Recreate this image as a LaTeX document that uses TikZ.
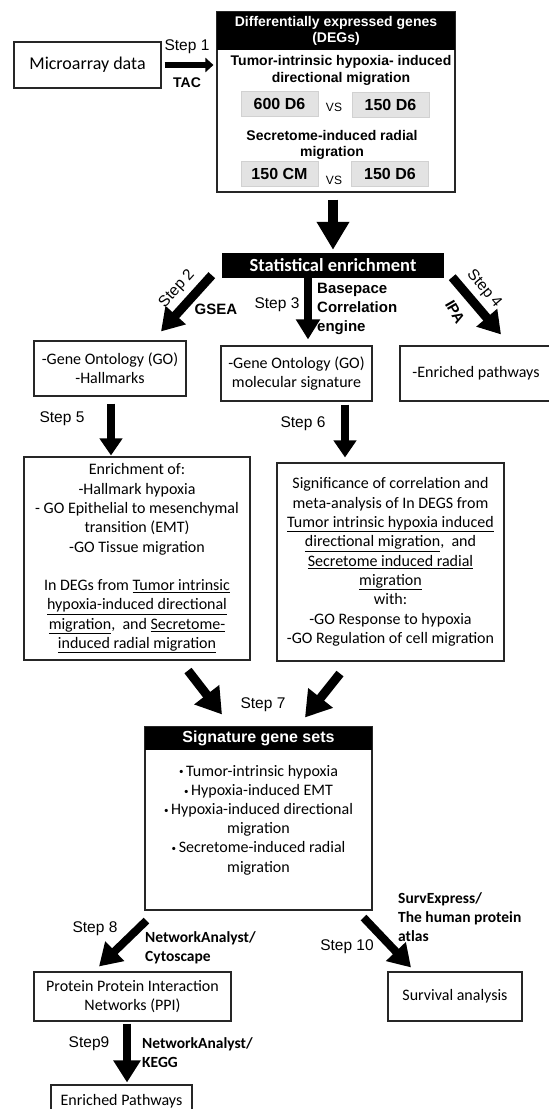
\documentclass[tikz,border=0pt]{standalone}
\usepackage{fontspec}
\setmainfont{Carlito}
\newfontfamily\arial{Liberation Sans}
\usetikzlibrary{arrows.meta}
\newcommand{\sbul}{\raisebox{1.3pt}{\fontsize{9}{9}\selectfont\textbullet}\,}
\begin{document}
\begin{tikzpicture}[x=1pt,y=-1pt,
  box/.style={draw=black!85, line width=1.1pt, inner sep=0pt, align=center, font=\fontsize{16}{19.3}\selectfont},
  head/.style={fill=black, text=white, inner sep=0pt, align=center, font=\arial\bfseries\fontsize{14}{16}\selectfont},
  grey/.style={fill=black!11, draw=black!18, line width=0.6pt, minimum width=77pt, minimum height=25pt, inner sep=0pt, font=\arial\bfseries\fontsize{16}{18}\selectfont},
  fat/.style={line width=9pt, -{Triangle[length=22pt,width=26pt]}},
  steplbl/.style={font=\arial\fontsize{15.5}{17}\selectfont, inner sep=0pt},
  tool/.style={font=\arial\bfseries\fontsize{15}{19}\selectfont, inner sep=0pt, align=left},
  toolc/.style={font=\bfseries\fontsize{15.5}{19}\selectfont, inner sep=0pt, align=left}]
\useasboundingbox (0,0) rectangle (549,1109);
\node[box, minimum width=147pt, minimum height=46pt, font=\fontsize{18}{20}\selectfont] (micro) at (87.5,65) {Microarray data};
\node[box, minimum width=238pt, minimum height=180pt] (degs) at (336,102) {};
\node[head, anchor=north, minimum width=238pt, minimum height=38pt] (degshead) at (degs.north) {Differentially expressed genes\\(DEGs)};
\node[font=\arial\bfseries\fontsize{14}{17}\selectfont, align=center, inner sep=0pt] (dirmig) at (341,70.5) {Tumor-intrinsic hypoxia- induced\\directional migration};
\node[font=\arial\bfseries\fontsize{14}{16}\selectfont, align=center, inner sep=0pt] (radmig) at (332,145) {Secretome-induced radial\\migration};
\node[grey] (g600) at (279.5,103.5) {600 D6};
\node[grey] (g150a) at (390.5,104.5) {150 D6};
\node[grey] (g150cm) at (279.5,174) {150 CM};
\node[grey] (g150b) at (390,174) {150 D6};
\node[font=\arial\fontsize{12}{14}\selectfont, inner sep=0pt] (vsa) at (334,107) {VS};
\node[font=\arial\fontsize{12}{14}\selectfont, inner sep=0pt] (vsb) at (334,180) {VS};
\node[head, minimum width=222pt, minimum height=25pt, font=\bfseries\fontsize{18.5}{20}\selectfont] (stat) at (333,265.5) {Statistical enrichment};
\node[box, minimum width=152pt, minimum height=55pt] (goleft) at (110,368.5) {-Gene Ontology (GO)\\-Hallmarks};
\node[box, minimum width=151pt, minimum height=55pt] (gomid) at (296.5,373.5) {-Gene Ontology (GO)\\molecular signature};
\node[box, minimum width=152pt, minimum height=55pt] (enrpath) at (476,373.5) {-Enriched pathways};
\node[box, minimum width=226pt, minimum height=203pt] (enrich) at (137,558.5) {Enrichment of:\\-Hallmark hypoxia\\- GO Epithelial to mesenchymal\\transition (EMT)\\-GO Tissue migration\\[19.3pt]In DEGs from \underline{Tumor intrinsic}\\\underline{hypoxia-induced directional}\\\underline{migration},\ \ and \underline{Secretome-}\\\underline{induced radial migration}};
\node[box, minimum width=227pt, minimum height=198pt] (signif) at (390.5,562) {Significance of correlation and\\meta-analysis of In DEGS from\\\underline{Tumor intrinsic hypoxia induced}\\\underline{directional migration},\ \ and\\\underline{Secretome induced radial}\\\underline{migration}\\with:\\-GO Response to hypoxia\\-GO Regulation of cell migration};
\node[box, minimum width=227pt, minimum height=183pt] (sig) at (258.5,818.5) {};
\node[head, anchor=north, minimum width=227pt, minimum height=23pt, font=\arial\bfseries\fontsize{16}{18}\selectfont] (sighead) at (sig.north) {Signature gene sets};
\node[align=center, inner sep=0pt, font=\fontsize{16}{19.2}\selectfont] (sigitems) at (258.5,820) {\sbul Tumor-intrinsic hypoxia\\\sbul Hypoxia-induced EMT\\\sbul Hypoxia-induced directional\\migration\\\sbul Secretome-induced radial\\migration};
\node[box, minimum width=197pt, minimum height=49pt] (ppi) at (132.5,996.5) {Protein Protein Interaction\\Networks (PPI)};
\node[box, minimum width=134pt, minimum height=49pt] (surv) at (455,996.5) {Survival analysis};
\node[box, minimum width=141pt, minimum height=32pt] (enrpw) at (121.5,1101) {Enriched Pathways};
\draw[line width=6pt, -{Triangle[length=8pt,width=14pt]}, shorten <=3pt, shorten >=3pt] (micro.east) -- (micro.east -| degs.west);
\node[steplbl] (s1) at (187,47) {Step 1};
\node[tool, font=\arial\bfseries\fontsize{14}{16}\selectfont] (tac) at (187,83) {TAC};
\draw[fat, line width=10.5pt, -{Triangle[length=28pt,width=31pt]}] ([xshift=-3pt,yshift=-7pt]degs.south) -- ([yshift=3pt]stat.north);
\draw[fat] ([xshift=-10pt,yshift=3pt]stat.south west) -- ([xshift=51pt,yshift=9pt]goleft.north);
\draw[fat, line width=7.5pt, -{Triangle[length=20pt,width=23pt]}] ([xshift=-25pt]stat.south) -- ([xshift=11.5pt,yshift=6pt]gomid.north);
\draw[fat] ([xshift=8pt,yshift=1pt]stat.south east) -- ([xshift=25pt,yshift=11pt]enrpath.north);
\node[steplbl, rotate=48] (s2) at (177,289) {Step 2};
\node[tool] (gsea) at (216,309) {GSEA};
\node[steplbl] (s3) at (277,305) {Step 3};
\node[tool, anchor=west] (bce) at (317,309) {Basepace\\Correlation\\engine};
\node[steplbl, rotate=-50] (s4) at (484,289) {Step 4};
\node[tool, rotate=-60] (ipa) at (455,312) {IPA};
\draw[fat, line width=8pt, -{Triangle[length=17pt,width=22pt]}] ([xshift=1pt,yshift=-7pt]goleft.south) -- ([xshift=-26pt,yshift=1pt]enrich.north);
\draw[fat, line width=8pt, -{Triangle[length=17pt,width=22pt]}] ([xshift=48.5pt,yshift=-3pt]gomid.south) -- ([xshift=-45.5pt,yshift=5pt]signif.north);
\node[steplbl] (s5) at (62,419) {Step 5};
\node[steplbl] (s6) at (303,424) {Step 6};
\draw[fat, -{Triangle[length=25pt,width=30pt]}] ([xshift=51pt,yshift=-10pt]enrich.south) -- ([xshift=-36.5pt,yshift=12pt]sig.north);
\draw[fat, -{Triangle[length=25pt,width=30pt]}] ([xshift=-50.5pt,yshift=-12pt]signif.south) -- ([xshift=46.5pt,yshift=9pt]sig.north);
\node[steplbl] (s7) at (263,705) {Step 7};
\draw[fat, line width=8pt] ([xshift=2pt,yshift=-10pt]sig.south west) -- ([xshift=-33.5pt,yshift=5pt]ppi.north);
\node[steplbl] (s8) at (95,929) {Step 8};
\node[toolc, anchor=west] (nacy) at (145,947.5) {NetworkAnalyst/\\Cytoscape};
\draw[fat, line width=8pt] ([xshift=-9pt,yshift=-7pt]sig.south east) -- ([xshift=-44pt,yshift=4pt]surv.north);
\node[steplbl] (s10) at (347,947) {Step 10};
\node[toolc, anchor=west] (surex) at (398,917) {SurvExpress/\\The human protein\\atlas};
\draw[fat, line width=8pt] ([xshift=-5.5pt,yshift=-2pt]ppi.south) -- ([xshift=5.5pt,yshift=2pt]enrpw.north);
\node[steplbl] (s9) at (89,1044) {Step9};
\node[toolc, anchor=west] (nakegg) at (142,1053) {NetworkAnalyst/\\KEGG};
\end{tikzpicture}
\end{document}
